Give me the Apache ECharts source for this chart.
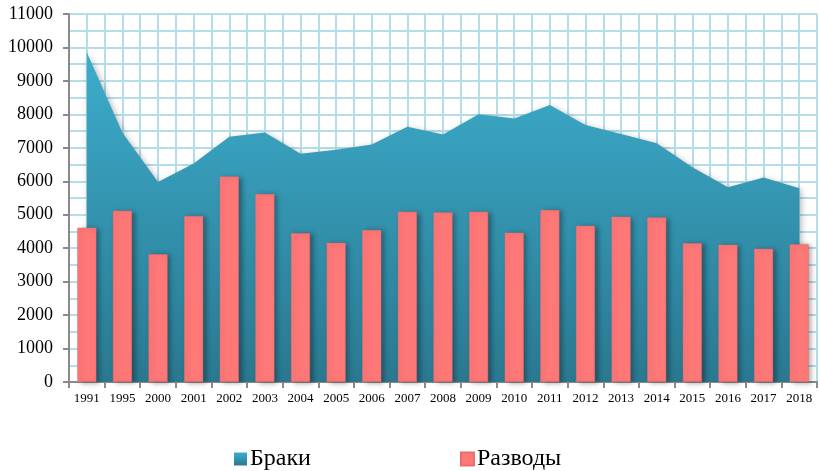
<!DOCTYPE html>
<html>
<head>
<meta charset="utf-8">
<script src="https://cdn.jsdelivr.net/npm/echarts@6/dist/echarts.min.js"></script>
<style>
  html, body { margin: 0; padding: 0; background: #fff; }
  #chart { width: 821px; height: 471px; }
</style>
</head>
<body>
<div id="chart"></div>
<script>
  var years = ['1991','1995','2000','2001','2002','2003','2004','2005','2006','2007','2008',
               '2009','2010','2011','2012','2013','2014','2015','2016','2017','2018'];
  // Браки
  var marriages = [9860, 7450, 5980, 6530, 7330, 7460, 6820, 6940, 7100, 7630, 7400,
                   8000, 7880, 8280, 7680, 7410, 7140, 6420, 5820, 6110, 5790];
  // Разводы
  var divorces = [4610, 5120, 3820, 4960, 6140, 5620, 4450, 4160, 4540, 5090, 5070,
                  5090, 4460, 5140, 4670, 4940, 4920, 4150, 4100, 3980, 4120];
  var seriesNames = ['Браки', 'Разводы'];

  var font = '"Liberation Serif", "Times New Roman", serif';
  var gridColor = '#b2dde9';
  var tealGrad = new echarts.graphic.LinearGradient(0, 0, 0, 1, [
    {offset: 0, color: '#3cadcc'},
    {offset: 1, color: '#2a7890'}
  ]);

  var myChart = echarts.init(document.getElementById('chart'));
  var option = {
    animation: false,
    textStyle: { fontFamily: font, color: '#000' },
    grid: { left: 69, right: 4, top: 14, bottom: 89 },
    legend: {
      top: 442,
      left: 229,
      itemGap: 149,
      itemWidth: 13,
      itemHeight: 13,
      icon: 'rect',
      textStyle: { fontFamily: font, fontSize: 24, color: '#000', padding: [0, 0, 0, -2] },
      data: [
        { name: seriesNames[0], itemStyle: { color: tealGrad } },
        { name: seriesNames[1], itemStyle: { color: '#ff7878' } }
      ]
    },
    xAxis: [
      {
        type: 'category',
        data: years,
        boundaryGap: true,
        axisLine: { show: true, lineStyle: { color: '#8a8a8a', width: 2 } },
        axisTick: { show: true, length: 6, lineStyle: { color: '#8a8a8a', width: 2 } },
        axisLabel: { fontFamily: font, fontSize: 13, color: '#000', margin: 10 },
        splitLine: { show: false }
      },
      {
        type: 'value',
        min: 0,
        max: years.length * 2,
        interval: 1,
        show: true,
        position: 'top',
        axisLine: { show: false },
        axisTick: { show: false },
        axisLabel: { show: false },
        splitLine: { show: true, lineStyle: { color: gridColor, width: 2 } }
      }
    ],
    yAxis: {
      type: 'value',
      min: 0,
      max: 11000,
      interval: 1000,
      axisLine: { show: true, lineStyle: { color: '#8a8a8a', width: 2 } },
      axisTick: { show: true, length: 6, lineStyle: { color: '#8a8a8a', width: 2 } },
      axisLabel: {
        fontFamily: font, fontSize: 18, color: '#000', margin: 16,
        formatter: function (v) { return String(v); }
      },
      splitLine: { show: true, lineStyle: { color: gridColor, width: 2 } },
      minorTick: { show: false, splitNumber: 2 },
      minorSplitLine: { show: true, lineStyle: { color: gridColor, width: 2 } }
    },
    series: [
      {
        name: seriesNames[0],
        type: 'line',
        xAxisIndex: 0,
        data: marriages,
        symbol: 'none',
        itemStyle: { color: tealGrad },
        lineStyle: { width: 0 },
        areaStyle: {
          color: tealGrad,
          opacity: 1,
          shadowColor: 'rgba(0,0,0,0.3)',
          shadowBlur: 6,
          shadowOffsetX: 2,
          shadowOffsetY: 2
        },
        z: 3
      },
      {
        name: seriesNames[1],
        type: 'bar',
        xAxisIndex: 0,
        data: divorces,
        barWidth: 19,
        itemStyle: {
          color: '#ff7878',
          borderColor: '#e86c6c',
          borderWidth: 0.5,
          shadowColor: 'rgba(0,0,0,0.35)',
          shadowBlur: 5,
          shadowOffsetX: 3,
          shadowOffsetY: 1
        },
        z: 4
      }
    ]
  };
  myChart.setOption(option, true);
</script>
</body>
</html>
